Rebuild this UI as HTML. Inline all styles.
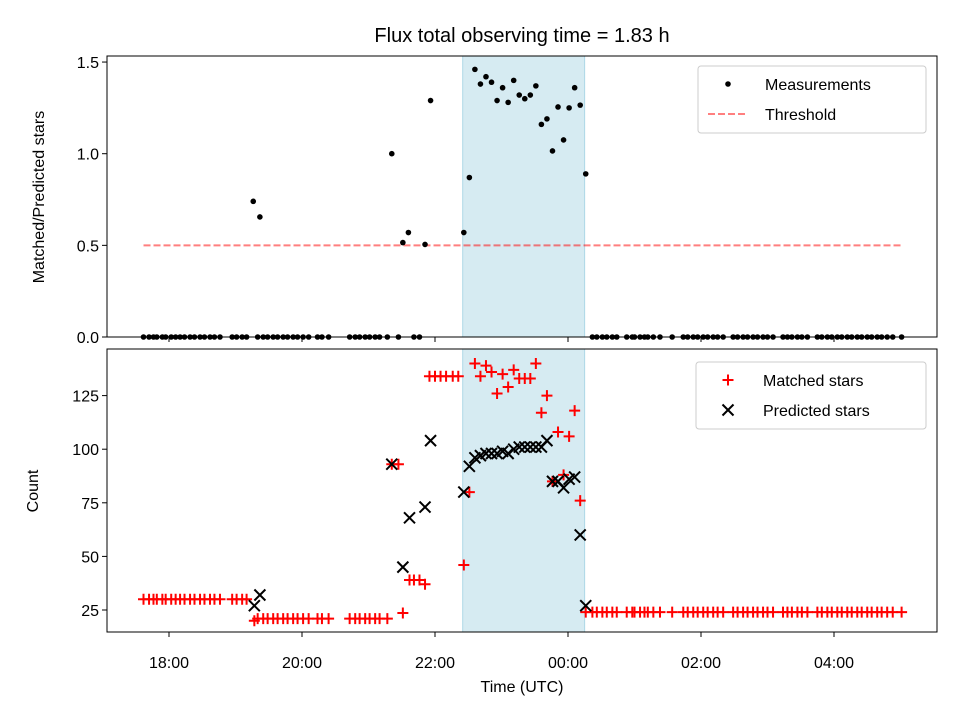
<!DOCTYPE html>
<html><head><meta charset="utf-8"><style>
body{margin:0;background:#fff}
svg{display:block;font-family:"Liberation Sans","DejaVu Sans",sans-serif}
</style></head><body>
<svg id="chart" width="960" height="720" viewBox="0 0 960 720">
<text x="522" y="42" font-size="20" text-anchor="middle">Flux total observing time = 1.83 h</text>
<g id="top"></g>
<g id="bot"></g>
</svg>
<script>
// times in minutes relative to 18:00 UTC
const ratioTimes=[76,82,201,211,216,231,236,266,271,276,281,286,291,296,301,306,311,316,321,326,331,336,341,346,351,356,361,366,371,376];
const ratioValues=[0.74,0.655,1.0,0.515,0.57,0.505,1.29,0.57,0.87,1.46,1.38,1.42,1.39,1.29,1.36,1.28,1.40,1.32,1.30,1.32,1.37,1.16,1.19,1.015,1.255,1.075,1.25,1.36,1.265,0.89];
const zeroTimesLeft=[-23,-18,-14,-11,-6,-3,2,6,10,14,19,23,28,32,37,41,46,57,61,66,70,80,85,89,94,98,103,107,112,116,121,126,134,138,144,163,168,172,177,181,186,190,197,207,221,226];
const zeroTimesRight=[382,386,391,395,400,404,413,418,420,425,429,432,437,443,454,464,468,473,477,482,486,491,495,500,509,513,518,522,527,531,536,540,545,554,558,562,567,571,576,585,589,594,598,603,607,612,616,621,625,630,634,639,643,648,653,661];
const threshold=0.5;
const thresholdRange=[-23,661];
const matchedTimesA=[-23,-18,-14,-11,-6,-3,2,6,10,14,19,23,28,32,37,41,46,57,61,66,70];
const matchedValuesA=[30,30,30,30,30,30,30,30,30,30,30,30,30,30,30,30,30,30,30,30,30];
const matchedTimesB=[77,80,85,89,94,98,103,107,112,116,121,126,134,138,144,163,168,172,177,181,186,190,197];
const matchedValuesB=[20,21,21,21,21,21,21,21,21,21,21,21,21,21,21,21,21,21,21,21,21,21,21];
const matchedTimesC=[201,207,211,217,221,226,231,235,240,245,250,256,261,266,271,276,281,286,291,296,301,306,311,316,321,326,331,336,341,346,351,356,361,366,371,376];
const matchedValuesC=[93,93,23.6,39,39,39,37,134,134,134,134,134,134,46,80,140,134,139,136,126,135,129,137,133,133,133,140,117,125,85,108,88,106,118,76,24];
const matchedTimesD=zeroTimesRight;
const matchedValueD=24;
const predTimes=[77,82,201,211,217,231,236,266,271,276,281,286,291,296,301,306,311,316,321,326,331,336,341,346,351,356,361,366,371,376];
const predValues=[27,32,93,45,68,73,104,80,92,96,97,98,98,98,99,98,100,101,101,101,101,101,104,85,85,82,86,87,60,27];
const xTickMinutes=[0,120,240,360,480,600];
const xTickLabels=["18:00","20:00","22:00","00:00","02:00","04:00"];
const topTicks=[0,0.5,1.0,1.5];
const topTickLabels=["0.0","0.5","1.0","1.5"];
const botTicks=[25,50,75,100,125];
const spanRange=[265,375];

const NS="http://www.w3.org/2000/svg";
const X=t=>169+t/60*66.5;
const YT=v=>337-v*183.3;
const YB=v=>610-(v-25)*2.144;
function mk(tag,attrs,parent,txt){const e=document.createElementNS(NS,tag);for(const k in attrs)e.setAttribute(k,attrs[k]);if(txt!==undefined)e.textContent=txt;parent.appendChild(e);return e;}
const topG=document.getElementById('top'),bot=document.getElementById('bot');
const L=107,R=937;
let s=mk('rect',{x:X(spanRange[0]),y:56,width:X(spanRange[1])-X(spanRange[0]),height:281,fill:'#add8e6','fill-opacity':0.5,stroke:'#add8e6','stroke-width':1},topG);


s=mk('rect',{x:X(spanRange[0]),y:349,width:X(spanRange[1])-X(spanRange[0]),height:283,fill:'#add8e6','fill-opacity':0.5,stroke:'#add8e6','stroke-width':1},bot);


let th=mk('line',{x1:X(thresholdRange[0]),x2:X(thresholdRange[1]),y1:YT(threshold),y2:YT(threshold),stroke:'#ff0000','stroke-opacity':0.5,'stroke-width':2,'stroke-dasharray':'7,3'},topG);


function dot(t,v){const c=mk('circle',{cx:X(t),cy:YT(v),r:2.8,fill:'#000'},topG);

}
zeroTimesLeft.forEach(t=>dot(t,0));
zeroTimesRight.forEach(t=>dot(t,0));
ratioTimes.forEach((t,i)=>dot(t,ratioValues[i]));
function plus(t,v,g){const x=X(t),y=YB(v);const p=mk('path',{d:`M${x-5.5},${y}H${x+5.5}M${x},${y-5.5}V${y+5.5}`,stroke:'#ff0000','stroke-width':2,fill:'none'},g);

}
function cross(t,v,g){const x=X(t),y=YB(v);const p=mk('path',{d:`M${x-5.5},${y-5.5}L${x+5.5},${y+5.5}M${x-5.5},${y+5.5}L${x+5.5},${y-5.5}`,stroke:'#000','stroke-width':2,fill:'none'},g);

}
matchedTimesA.forEach((t,i)=>plus(t,matchedValuesA[i],bot));
matchedTimesB.forEach((t,i)=>plus(t,matchedValuesB[i],bot));
matchedTimesC.forEach((t,i)=>plus(t,matchedValuesC[i],bot));
matchedTimesD.forEach(t=>plus(t,matchedValueD,bot));
predTimes.forEach((t,i)=>cross(t,predValues[i],bot));
let f=mk('rect',{x:L,y:56,width:R-L,height:281,fill:'none',stroke:'#000','stroke-width':1},topG);


f=mk('rect',{x:L,y:349,width:R-L,height:283,fill:'none',stroke:'#000','stroke-width':1},bot);


xTickMinutes.forEach((t,i)=>{const x=X(t);
mk('line',{x1:x,x2:x,y1:337,y2:342,stroke:'#000'},topG);
mk('line',{x1:x,x2:x,y1:632,y2:637,stroke:'#000'},bot);
const tx=mk('text',{x:x,y:668,'font-size':16,'text-anchor':'middle'},bot,xTickLabels[i]);

});
topTicks.forEach((v,i)=>{const y=YT(v);mk('line',{x1:L-5,x2:L,y1:y,y2:y,stroke:'#000'},topG);
const tx=mk('text',{x:L-8,y:y+6,'font-size':16,'text-anchor':'end'},topG,topTickLabels[i]);

});
botTicks.forEach(v=>{const y=YB(v);mk('line',{x1:L-5,x2:L,y1:y,y2:y,stroke:'#000'},bot);
const tx=mk('text',{x:L-8,y:y+6,'font-size':16,'text-anchor':'end'},bot,String(v));

});
let t1=mk('text',{x:44,y:197,'font-size':16,'text-anchor':'middle',transform:'rotate(-90 44 197)'},topG,'Matched/Predicted stars');


t1=mk('text',{x:38,y:491,'font-size':16,'text-anchor':'middle',transform:'rotate(-90 38 491)'},bot,'Count');


t1=mk('text',{x:522,y:692,'font-size':16,'text-anchor':'middle'},bot,'Time (UTC)');


let lg=mk('g',{},topG);


mk('rect',{x:698,y:66,width:228,height:67,rx:3,fill:'#fff','fill-opacity':0.8,stroke:'#ccc'},lg);
mk('circle',{cx:728,cy:84,r:2.8,fill:'#000'},lg);
mk('text',{x:765,y:90,'font-size':16},lg,'Measurements');
mk('line',{x1:708,x2:748,y1:114,y2:114,stroke:'#ff0000','stroke-opacity':0.5,'stroke-width':2,'stroke-dasharray':'7,3'},lg);
mk('text',{x:765,y:120,'font-size':16},lg,'Threshold');
lg=mk('g',{},bot);


mk('rect',{x:696,y:362,width:230,height:67,rx:3,fill:'#fff','fill-opacity':0.8,stroke:'#ccc'},lg);
mk('path',{d:'M722.5,380H733.5M728,374.5V385.5',stroke:'#ff0000','stroke-width':2},lg);
mk('text',{x:763,y:386,'font-size':16},lg,'Matched stars');
mk('path',{d:'M722.5,404.5L733.5,415.5M722.5,415.5L733.5,404.5',stroke:'#000','stroke-width':2},lg);
mk('text',{x:763,y:416,'font-size':16},lg,'Predicted stars');
</script>
</body></html>
